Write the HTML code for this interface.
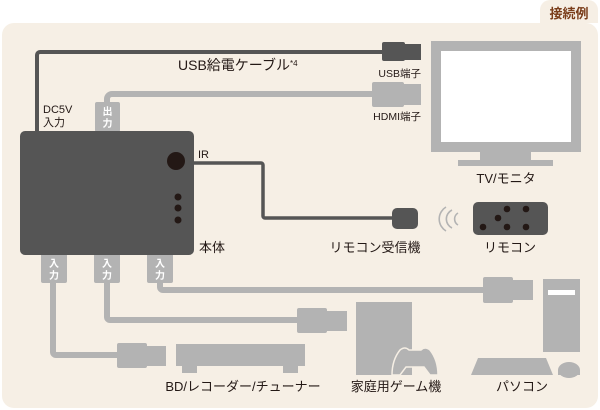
<!DOCTYPE html>
<html><head><meta charset="utf-8"><style>
html,body{margin:0;padding:0;background:#fff}
svg{display:block}
text{font-family:"Liberation Sans","Noto Sans CJK JP",sans-serif;fill:#231815}
</style></head><body>
<svg width="600" height="410" viewBox="0 0 600 410" xmlns="http://www.w3.org/2000/svg">
<rect x="0" y="0" width="600" height="410" fill="#fff"/>
<rect x="2" y="23" width="596" height="385" rx="12" fill="#f6efe5"/>
<path d="M540 23 V10 a10 10 0 0 1 10 -10 H588 a10 10 0 0 1 10 10 V23 Z" fill="#f6efe5"/>
<text x="569" y="18" font-size="13" font-weight="bold" text-anchor="middle" style="fill:#7a3d1a">接続例</text>

<path d="M37 133 V55 a3 3 0 0 1 3 -3 H385" fill="none" stroke="#555" stroke-width="4"/>
<rect x="382" y="42" width="23" height="19" rx="2" fill="#555"/>
<rect x="403" y="44" width="18" height="16" fill="#555"/>
<text x="178" y="70" font-size="14">USB給電ケーブル<tspan font-size="8" dy="-4">*4</tspan></text>
<text x="421" y="77" font-size="10.5" text-anchor="end">USB端子</text>

<path d="M107 103 V99 a5 5 0 0 1 5 -5 H375" fill="none" stroke="#b3b3b3" stroke-width="6"/>
<rect x="372" y="82" width="32" height="25" rx="2" fill="#b3b3b3"/>
<rect x="402" y="84" width="19" height="21" fill="#b3b3b3"/>
<text x="421" y="120" font-size="10.5" text-anchor="end">HDMI端子</text>

<rect x="95" y="102" width="25" height="30" rx="2" fill="#b3b3b3"/>
<text x="107.5" y="115" font-size="10" font-weight="bold" text-anchor="middle" style="fill:#fff">出</text>
<text x="107.5" y="127" font-size="10" font-weight="bold" text-anchor="middle" style="fill:#fff">力</text>
<text x="43" y="113" font-size="11">DC5V</text>
<text x="43" y="126" font-size="11">入力</text>

<path d="M53 280 V352 a3 3 0 0 0 3 3 H120" fill="none" stroke="#b3b3b3" stroke-width="6"/>
<path d="M107 280 V317 a3 3 0 0 0 3 3 H300" fill="none" stroke="#b3b3b3" stroke-width="6"/>
<path d="M160 280 V287 a3 3 0 0 0 3 3 H487" fill="none" stroke="#b3b3b3" stroke-width="6"/>
<rect x="41" y="253" width="26" height="30" rx="2" fill="#b3b3b3"/>
<rect x="94" y="253" width="26" height="30" rx="2" fill="#b3b3b3"/>
<rect x="147" y="253" width="26" height="30" rx="2" fill="#b3b3b3"/>
<g font-size="10" font-weight="bold" text-anchor="middle">
<text x="54" y="267" style="fill:#fff">入</text><text x="54" y="279" style="fill:#fff">力</text>
<text x="107" y="267" style="fill:#fff">入</text><text x="107" y="279" style="fill:#fff">力</text>
<text x="160" y="267" style="fill:#fff">入</text><text x="160" y="279" style="fill:#fff">力</text>
</g>

<rect x="20" y="131" width="174" height="124" rx="5" fill="#555"/>
<circle cx="176" cy="161" r="9" fill="#231815"/>
<circle cx="178" cy="197" r="3.5" fill="#231815"/>
<circle cx="178" cy="208" r="3.5" fill="#231815"/>
<circle cx="178" cy="220" r="3.5" fill="#231815"/>
<text x="198" y="158" font-size="11">IR</text>
<text x="199" y="252" font-size="13">本体</text>

<path d="M194 163 H261 a2 2 0 0 1 2 2 V216 a2 2 0 0 0 2 2 H395" fill="none" stroke="#555" stroke-width="3.5"/>
<rect x="392" y="208" width="26" height="21" rx="5" fill="#555"/>
<text x="375" y="252" font-size="13" text-anchor="middle">リモコン受信機</text>

<g fill="none" stroke="#b3b3b3" stroke-width="1.6">
<path d="M446 207 a14 14 0 0 0 0 24"/>
<path d="M452 210 a10 10 0 0 0 0 18"/>
<path d="M458 213 a7 7 0 0 0 0 12"/>
</g>
<rect x="473" y="202" width="75" height="33" rx="5" fill="#555"/>
<g fill="#231815">
<circle cx="507" cy="209" r="3.3"/><circle cx="526" cy="209" r="3.3"/>
<circle cx="498" cy="218" r="3.3"/>
<circle cx="483" cy="227" r="3.3"/><circle cx="507" cy="227" r="3.3"/><circle cx="526" cy="227" r="3.3"/>
</g>
<text x="510" y="252" font-size="13" text-anchor="middle">リモコン</text>

<rect x="431" y="41" width="150" height="111" fill="#b3b3b3"/>
<rect x="441" y="51" width="130" height="91" fill="#fff"/>
<rect x="480" y="151" width="51" height="10" fill="#b3b3b3"/>
<rect x="458" y="160" width="95" height="6" fill="#b3b3b3"/>
<text x="506" y="183" font-size="13" text-anchor="middle">TV/モニタ</text>

<rect x="117" y="343" width="30" height="25" rx="2" fill="#b3b3b3"/>
<rect x="145" y="346" width="21" height="20" fill="#b3b3b3"/>
<rect x="297" y="308" width="30" height="25" rx="2" fill="#b3b3b3"/>
<rect x="325" y="311" width="22" height="20" fill="#b3b3b3"/>
<rect x="483" y="277" width="30" height="26" rx="2" fill="#b3b3b3"/>
<rect x="511" y="280" width="22" height="20" fill="#b3b3b3"/>

<rect x="176" y="344" width="129" height="22" fill="#b3b3b3"/>
<rect x="182" y="364" width="15" height="9" fill="#b3b3b3"/>
<rect x="283" y="364" width="15" height="9" fill="#b3b3b3"/>
<text x="243" y="391" font-size="13" text-anchor="middle">BD/レコーダー/チューナー</text>

<rect x="356" y="302" width="56" height="73" fill="#b3b3b3"/>
<path d="M400 350 q5 -4 9 0 h12 q4 -4 9 0 q8 10 8 25 h-8 l-6 -8 h-18 l-6 8 h-8 q0 -15 8 -25z" fill="#b3b3b3" stroke="#f6efe5" stroke-width="1.5"/>
<text x="396" y="391" font-size="13" text-anchor="middle">家庭用ゲーム機</text>

<rect x="543" y="279" width="37" height="73" fill="#b3b3b3"/>
<rect x="548" y="290" width="27" height="5" fill="#fff"/>
<path d="M478 358 H546 L553 375 H471 Z" fill="#b3b3b3"/>
<ellipse cx="569" cy="370" rx="11" ry="8" fill="#b3b3b3"/>
<rect x="558" y="370" width="22" height="5" fill="#b3b3b3"/>
<text x="522" y="391" font-size="13" text-anchor="middle">パソコン</text>
</svg>
</body></html>
